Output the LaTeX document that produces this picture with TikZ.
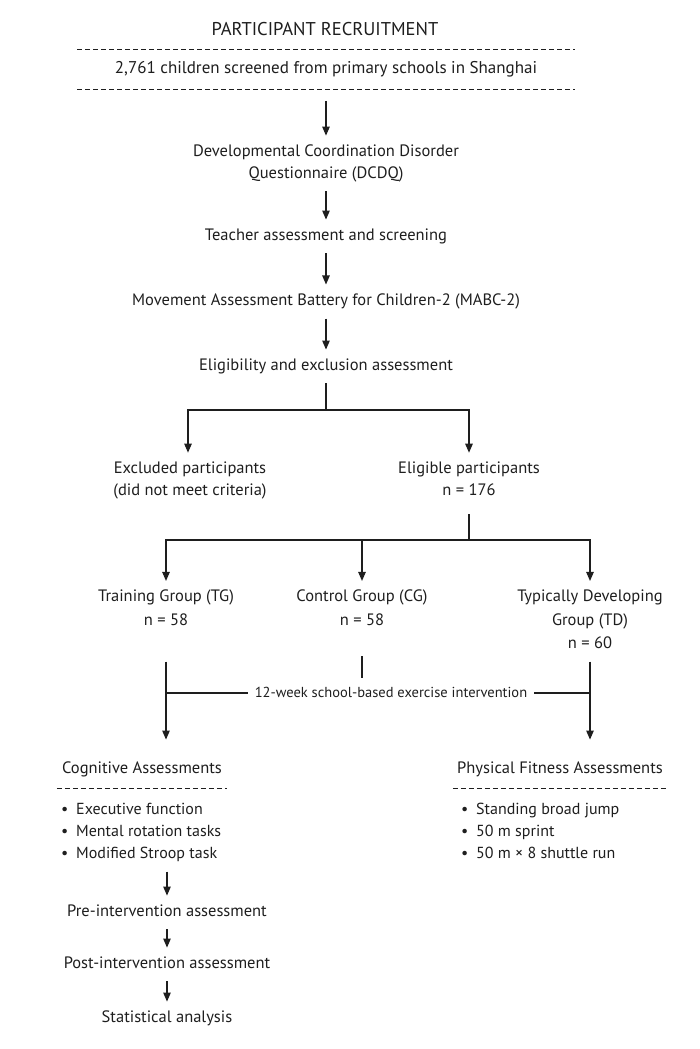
\documentclass[tikz,border=0pt]{standalone}
\usepackage{fontspec}
\setmainfont{PT Sans}
\usetikzlibrary{arrows.meta}
\definecolor{ink}{HTML}{1E1E1E}
\newcommand{\topst}{\rule{0pt}{12pt}}
\newcommand{\botst}{\rule[-3.5pt]{0pt}{3.5pt}}
\newcommand{\bul}{\makebox[15pt][l]{\textbullet}}
\begin{document}
\begin{tikzpicture}[x=1pt,y=-1pt,
  every node/.style={text=ink, font=\fontsize{16.5}{22}\selectfont},
  struts/.style={execute at begin node=\topst, execute at end node=\botst},
  txt/.style={struts, align=center, inner ysep=9pt, inner xsep=2pt},
  grp/.style={txt, font=\fontsize{16.5}{23.5}\selectfont},
  lst/.style={struts, align=left, inner ysep=9pt, inner xsep=0pt, anchor=west, font=\fontsize{16}{22}\selectfont},
  head/.style={struts, align=center, inner ysep=11pt, inner xsep=0pt},
  ln/.style={draw=ink, line width=1.1pt},
  arr/.style={ln, -{Triangle[length=9pt,width=7.5pt]}},
  dashrule/.style={draw=ink, line width=0.8pt, dash pattern=on 5pt off 3pt}
]
\useasboundingbox (0,0) rectangle (700,1049);

\node (title) at (325,29) {\fontsize{18.5}{20}\selectfont PARTICIPANT RECRUITMENT};
\node[txt, minimum width=497pt, inner ysep=12.25pt, font=\fontsize{17}{22}\selectfont] (recruit) at (326,69.5) {2,761 children screened from primary schools in Shanghai};
\draw[dashrule] (recruit.north west) -- (recruit.north east);
\draw[dashrule] (recruit.south west) -- (recruit.south east);

\node[txt] (dcdq) at (326,163.5) {Developmental Coordination Disorder\\Questionnaire (DCDQ)};
\node[txt] (teacher) at (326,236.5) {Teacher assessment and screening};
\node[txt] (mabc) at (326,301.5) {Movement Assessment Battery for Children-2 (MABC-2)};
\node[txt] (elig) at (326,366.5) {Eligibility and exclusion assessment};

\draw[arr, shorten <=11pt] (recruit.south) -- (dcdq.north);
\draw[arr] (dcdq.south) -- (teacher.north);
\draw[arr] (teacher.south) -- (mabc.north);
\draw[arr] (mabc.south) -- (elig.north);

\node[txt] (excl) at (190,480.5) {Excluded participants\\(did not meet criteria)};
\node[txt] (eligp) at (469,480.5) {Eligible participants\\n = 176};
\coordinate (split1) at (326,410);
\draw[ln] (elig.south) -- (split1);
\draw[arr] (split1) -| ([xshift=-2pt]excl.north);
\draw[arr] (split1) -| (eligp.north);

\node[grp] (tg) at (166,609.5) {Training Group (TG)\\n = 58};
\node[grp] (cg) at (362,609.5) {Control Group (CG)\\n = 58};
\node[grp] (td) at (590,621.25) {Typically Developing\\Group (TD)\\n = 60};
\coordinate (split2) at (469,540);
\draw[ln, shorten <=6pt] (eligp.south) -- (split2);
\draw[arr] (split2) -| (tg.north);
\draw[arr] (split2) -| (cg.north);
\draw[arr] (split2) -| (td.north);

\node[txt, inner xsep=7pt, inner ysep=2pt, font=\fontsize{14.5}{18}\selectfont] (interv) at (391,693) {12-week school-based exercise intervention};
\draw[ln] ([yshift=5.5pt]cg.south |- td.south) -- ++(0,22);

\node[head, minimum width=170pt] (cog) at (142,769.5) {Cognitive Assessments};
\draw[dashrule] (cog.south west) -- (cog.south east);
\node[head, minimum width=214pt] (phys) at (560,769.5) {Physical Fitness Assessments};
\draw[dashrule] (phys.south west) -- (phys.south east);

\draw[arr, shorten >=11pt] (tg.south |- td.south) -- (tg.south |- cog.north);
\draw[arr, shorten >=11pt] (td.south) -- (td.south |- phys.north);
\draw[ln] (tg.south |- interv.west) -- (interv.west);
\draw[ln] (interv.east) -- (td.south |- interv.east);

\node[lst] (cogl) at (61,833) {\bul Executive function\\\bul Mental rotation tasks\\\bul Modified Stroop task};
\node[lst] (physl) at (461,833) {\bul Standing broad jump\\\bul 50 m sprint\\\bul 50 m × 8 shuttle run};

\node[txt] (pre) at (167,912.5) {Pre-intervention assessment};
\node[txt] (post) at (167,964.5) {Post-intervention assessment};
\node[txt] (stat) at (167,1018.5) {Statistical analysis};
\draw[arr] (pre.north |- cogl.south) -- (pre.north);
\draw[arr] (pre.south) -- (post.north);
\draw[arr] (post.south) -- (stat.north);
\end{tikzpicture}
\end{document}
